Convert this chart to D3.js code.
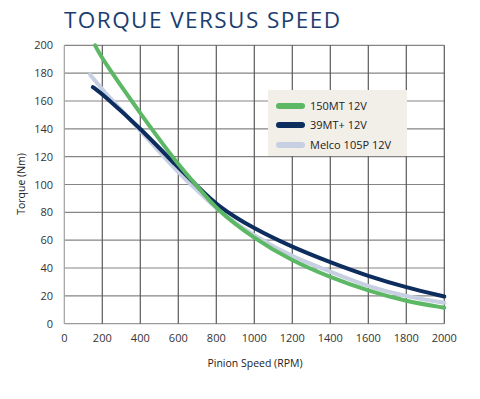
<!DOCTYPE html>
<html><head><meta charset="utf-8">
<script src="https://cdn.jsdelivr.net/npm/d3@7"></script>
<style>body{margin:0;background:#fff}svg{display:block}text{font-family:"Open Sans",Lato,sans-serif}</style>
</head><body><svg id="c" width="480" height="399"></svg>
<script>
const title = "TORQUE VERSUS SPEED";
const xTicks = [0,200,400,600,800,1000,1200,1400,1600,1800,2000];
const yTicks = [0,20,40,60,80,100,120,140,160,180,200];
const seriesNames = ["150MT 12V","39MT+ 12V","Melco 105P 12V"];
const seriesColors = ["#5cb865","#0c2d5e","#c7cfe2"];
const rpm150MT = [162,200,400,600,700,800,1000,1200,1400,1600,1800,2000];
const torque150MT = [200,190,151,114,99,82,61,45,33.3,23.5,16,11.5];
const rpm39MT = [150,200,400,600,700,800,1000,1200,1400,1600,1800,2000];
const torque39MT = [170,165,140.5,112,99,85,68,55,44,34,26,19.5];
const rpmMelco = [135,200,400,600,700,800,1000,1200,1400,1600,1800,2000];
const torqueMelco = [179,168,139,108,96,82,63,48,37.5,26.5,19.5,15];

const svg = d3.select("#c");
const x = d3.scaleLinear().domain([0,2000]).range([64.3,444.3]);
const y = d3.scaleLinear().domain([0,200]).range([323.7,45.3]);

svg.append("text").attr("x",64).attr("y",28).attr("fill","#1b3e6f")
  .attr("font-size",22.5).attr("letter-spacing",1.45).text(title);

// grid
svg.append("g").selectAll("line").data(yTicks).join("line")
  .attr("x1",x(0)).attr("x2",x(2000)).attr("y1",d=>y(d)).attr("y2",d=>y(d))
  .attr("stroke",d=>d===0?"#9a9a9a":"#858585").attr("stroke-width",1.2);
svg.append("g").selectAll("line").data(xTicks).join("line")
  .attr("y1",y(0)).attr("y2",y(200)).attr("x1",d=>x(d)).attr("x2",d=>x(d))
  .attr("stroke",d=>d===0?"#a0a0a0":"#5a5a5a").attr("stroke-width",1.2);

// tick labels
svg.append("g").selectAll("text").data(yTicks).join("text")
  .attr("x",53).attr("y",d=>y(d)+4).attr("text-anchor","end")
  .attr("font-size",11).attr("fill","#333").text(d=>d);
svg.append("g").selectAll("text").data(xTicks).join("text")
  .attr("x",d=>x(d)).attr("y",342).attr("text-anchor","middle")
  .attr("font-size",11).attr("fill","#333").text(d=>d);

svg.append("text").attr("x",255).attr("y",367).attr("text-anchor","middle")
  .attr("font-size",10.5).attr("fill","#222").text("Pinion Speed (RPM)");
svg.append("text").attr("transform","translate(25,184) rotate(-90)").attr("text-anchor","middle")
  .attr("font-size",10.5).attr("fill","#222").text("Torque (Nm)");

const line = d3.line().x(d=>x(d[0])).y(d=>y(d[1])).curve(d3.curveBasis);
const data = [
  {i:2, pts:d3.zip(rpmMelco,torqueMelco)},
  {i:1, pts:d3.zip(rpm39MT,torque39MT)},
  {i:0, pts:d3.zip(rpm150MT,torque150MT)}
];
svg.append("g").selectAll("path").data(data).join("path")
  .attr("d",d=>line(d.pts)).attr("fill","none")
  .attr("stroke",d=>seriesColors[d.i]).attr("stroke-width",4).attr("stroke-linecap","round");

// legend
const lg = svg.append("g");
lg.append("rect").attr("x",268).attr("y",90).attr("width",139).attr("height",66).attr("fill","#f2efe9");
const rows = [106,125,145];
seriesNames.forEach((n,i)=>{
  lg.append("line").attr("x1",279).attr("x2",302).attr("y1",rows[i]).attr("y2",rows[i])
    .attr("stroke",seriesColors[i]).attr("stroke-width",6).attr("stroke-linecap","round");
  lg.append("text").attr("x",310).attr("y",rows[i]+4).attr("font-size",11).attr("fill","#222").text(n);
});
</script></body></html>
